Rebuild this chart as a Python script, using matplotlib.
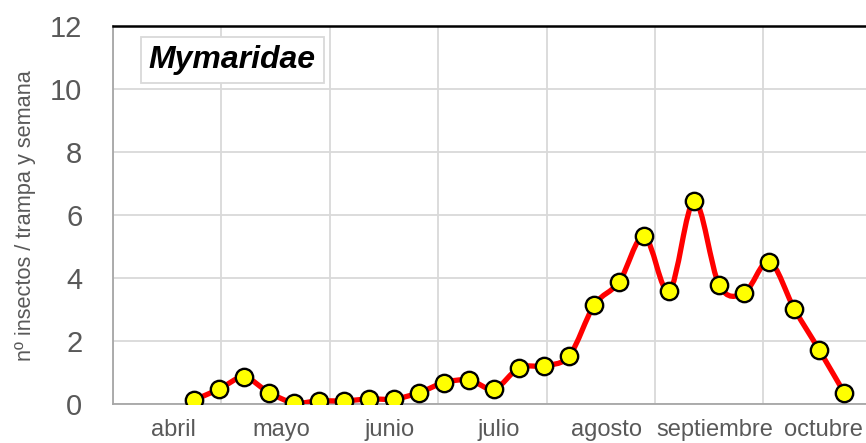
import matplotlib.pyplot as plt
import numpy as np
from matplotlib.path import Path
from matplotlib.patches import PathPatch

plt.rcParams['font.family'] = ['Liberation Sans', 'DejaVu Sans']

# datos semanales
semanas = list(range(14, 41))
insectos = [0.13, 0.47, 0.85, 0.36, 0.04, 0.10, 0.10, 0.16, 0.16, 0.36,
            0.68, 0.76, 0.48, 1.15, 1.22, 1.53, 3.14, 3.88, 5.33, 3.59,
            6.44, 3.77, 3.53, 4.52, 3.02, 1.71, 0.35]
meses = ['abril', 'mayo', 'junio', 'julio', 'agosto', 'septiembre', 'octubre']

sem_mes = 4.333
x0 = 14 - 3.24  # borde izquierdo del eje

fig = plt.figure(figsize=(8.66, 4.43), dpi=100)
ax = fig.add_axes([0.1305, 0.088, 0.876, 0.853])

# linea suavizada (bezier tipo Excel)
x = np.array(semanas, dtype=float)
y = np.array(insectos)
verts = [(x[0], y[0])]
codes = [Path.MOVETO]
n = len(x)
for i in range(n - 1):
    p0 = np.array([x[max(i - 1, 0)], y[max(i - 1, 0)]])
    p1 = np.array([x[i], y[i]])
    p2 = np.array([x[i + 1], y[i + 1]])
    p3 = np.array([x[min(i + 2, n - 1)], y[min(i + 2, n - 1)]])
    c1 = p1 + (p2 - p0) / 6
    c2 = p2 - (p3 - p1) / 6
    verts += [tuple(c1), tuple(c2), tuple(p2)]
    codes += [Path.CURVE4] * 3
ax.add_patch(PathPatch(Path(verts, codes), fill=False, edgecolor='#ff0000',
                       lw=3.8, zorder=3, capstyle='round', joinstyle='round'))
ax.plot(x, y, 'o', ms=12.5, mfc='#ffff00', mec='black', mew=1.7, zorder=4)

ax.set_xlim(x0, x0 + 7 * sem_mes)
ax.set_ylim(0, 12)
ax.set_yticks(range(0, 13, 2))
ax.set_xticks([x0 + i * sem_mes for i in range(8)])
ax.set_xticklabels([])
ax.set_xticks([x0 + (i + 0.555) * sem_mes for i in range(7)], minor=True)
ax.set_xticklabels(meses, minor=True)
ax.tick_params(axis='x', which='both', length=0, labelsize=17, colors='#595959', pad=11)
ax.tick_params(axis='y', length=0, labelsize=21, colors='#595959', pad=22)
ax.grid(True, which='major', color='#d9d9d9', lw=1.3)
ax.set_axisbelow(True)

for s in ['left', 'bottom']:
    ax.spines[s].set_color('#a6a6a6')
    ax.spines[s].set_linewidth(1.3)
ax.spines['top'].set_color('black')
ax.spines['top'].set_linewidth(1.8)
ax.spines['right'].set_visible(False)

ax.set_ylabel('nº insectos / trampa y semana', fontsize=15.7, color='#595959', labelpad=10)

ax.text(0.157, 0.911, 'Mymaridae', transform=ax.transAxes, fontsize=23,
        fontweight='bold', fontstyle='italic', ha='center', va='center',
        bbox=dict(boxstyle='square,pad=0.25', fc='white', ec='#d9d9d9', lw=1.3))

fig.savefig('out.png', dpi=100)
